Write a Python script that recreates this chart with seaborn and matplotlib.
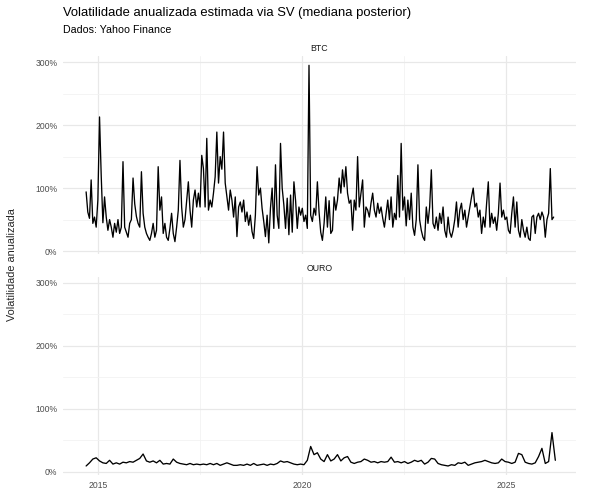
import pandas as pd
import matplotlib
matplotlib.use("Agg")
import matplotlib.pyplot as plt
import matplotlib.dates as mdates
from matplotlib.ticker import PercentFormatter, FixedLocator
import seaborn as sns

# textos
title = "Volatilidade anualizada estimada via SV (mediana posterior)"
subtitle = "Dados: Yahoo Finance"
y_label = "Volatilidade anualizada"
facets = ["BTC", "OURO"]

# séries (volatilidade anualizada em %)
start_date = "2014-09-17"
btc_freq = "15D"
ouro_freq = "30D"

btc_vol = [
    94, 62, 52, 113, 44, 54, 38, 81, 213, 120, 45, 86, 54, 33, 50, 38, 22, 44, 30, 50,
    28, 38, 142, 38, 30, 22, 44, 50, 116, 75, 55, 44, 38, 126, 60, 38, 28, 22, 17, 28,
    44, 22, 33, 134, 65, 86, 28, 44, 22, 17, 36, 60, 28, 15, 38, 65, 144, 70, 38, 50,
    81, 110, 65, 38, 81, 97, 70, 92, 70, 152, 131, 70, 179, 65, 81, 70, 92, 118, 189, 108,
    150, 130, 189, 108, 86, 65, 97, 81, 54, 86, 23, 70, 78, 62, 81, 47, 62, 41, 57, 31,
    20, 57, 134, 89, 100, 68, 47, 23, 57, 13, 68, 100, 36, 137, 57, 36, 171, 100, 73, 36,
    84, 26, 89, 30, 110, 80, 36, 70, 57, 68, 47, 57, 36, 295, 57, 47, 68, 57, 110, 62,
    30, 17, 44, 86, 38, 80, 28, 33, 86, 65, 81, 116, 92, 129, 102, 134, 92, 76, 81, 33,
    81, 65, 150, 70, 92, 113, 38, 70, 65, 54, 76, 92, 65, 54, 76, 60, 70, 52, 38, 60,
    81, 50, 86, 38, 60, 50, 120, 54, 171, 65, 86, 40, 81, 50, 92, 38, 25, 50, 137, 50,
    33, 22, 17, 70, 44, 70, 129, 44, 36, 54, 33, 60, 44, 70, 33, 22, 54, 30, 22, 33,
    50, 78, 38, 65, 76, 50, 65, 38, 54, 70, 86, 100, 70, 76, 54, 65, 28, 54, 38, 76,
    110, 38, 60, 44, 54, 33, 60, 108, 54, 65, 50, 54, 33, 28, 60, 86, 38, 78, 33, 22,
    50, 33, 22, 38, 20, 17, 54, 57, 28, 54, 60, 50, 62, 54, 22, 50, 60, 131, 50, 54,
]

ouro_vol = [
    9, 14, 20, 22, 17, 14, 13, 18, 12, 14, 12, 15, 14, 16, 15, 18, 21, 28, 17, 15,
    17, 14, 18, 12, 13, 12, 20, 15, 13, 12, 11, 13, 11, 12, 11, 12, 11, 13, 11, 13,
    10, 12, 14, 12, 10, 10, 11, 10, 12, 10, 13, 10, 11, 12, 10, 12, 11, 13, 17, 15,
    16, 14, 12, 11, 12, 11, 18, 40, 27, 30, 20, 16, 27, 17, 20, 27, 17, 22, 24, 15,
    13, 15, 16, 20, 18, 15, 16, 14, 16, 15, 16, 23, 15, 16, 14, 16, 13, 15, 18, 16,
    18, 12, 15, 21, 20, 13, 11, 10, 9, 11, 10, 14, 13, 15, 10, 12, 14, 15, 16, 18,
    16, 14, 13, 14, 20, 16, 15, 13, 15, 29, 27, 15, 13, 12, 14, 24, 37, 13, 16, 62,
    18,
]

x_breaks = ["2015-01-01", "2020-01-01", "2025-01-01"]
x_labels = ["2015", "2020", "2025"]
x_minor = ["2017-07-02", "2022-07-02"]
y_breaks = [0, 100, 200, 300]
y_minor = [50, 150, 250]

df = pd.concat([
    pd.DataFrame({"data": pd.date_range(start_date, periods=len(btc_vol), freq=btc_freq),
                  "vol": btc_vol, "ativo": "BTC"}),
    pd.DataFrame({"data": pd.date_range(start_date, periods=len(ouro_vol), freq=ouro_freq),
                  "vol": ouro_vol, "ativo": "OURO"}),
], ignore_index=True)

sns.set_theme(style="white")
plt.rcParams["font.family"] = ["Liberation Sans", "DejaVu Sans"]

fig = plt.figure(figsize=(6, 4.94), dpi=100)
ax_top = fig.add_axes([0.105, 0.485, 0.855, 0.401])
ax_bot = fig.add_axes([0.105, 0.0385, 0.855, 0.401])

for ax, ativo in zip([ax_top, ax_bot], facets):
    sub = df[df["ativo"] == ativo]
    sns.lineplot(data=sub, x="data", y="vol", color="black", linewidth=0.95, ax=ax)
    ax.set_xlim(pd.Timestamp("2014-02-22"), pd.Timestamp("2026-09-19"))
    ax.set_ylim(-5.3, 309.3)
    ax.xaxis.set_major_locator(FixedLocator(mdates.date2num(pd.to_datetime(x_breaks))))
    ax.xaxis.set_minor_locator(FixedLocator(mdates.date2num(pd.to_datetime(x_minor))))
    ax.yaxis.set_major_locator(FixedLocator(y_breaks))
    ax.yaxis.set_minor_locator(FixedLocator(y_minor))
    ax.yaxis.set_major_formatter(PercentFormatter(xmax=100, decimals=0))
    ax.grid(which="major", color="#e8e8e8", linewidth=0.9)
    ax.grid(which="minor", color="#f2f2f2", linewidth=0.6)
    ax.set_axisbelow(True)
    for s in ax.spines.values():
        s.set_visible(False)
    ax.tick_params(which="both", length=0, labelsize=6.2, labelcolor="#4d4d4d", pad=4)
    ax.set_xlabel("")
    ax.set_ylabel("")
    ax.text(0.5, 1.0 + 8 / 198, ativo, transform=ax.transAxes, ha="center", va="center",
            fontsize=6.3, color="#1a1a1a")

ax_top.set_xticklabels([])
ax_bot.set_xticklabels(x_labels)

fig.text(63 / 600, 1 - 13 / 494, title, fontsize=9.4, va="center", ha="left", color="black")
fig.text(63 / 600, 1 - 30 / 494, subtitle, fontsize=7.7, va="center", ha="left", color="black")
fig.text(12 / 600, 1 - 265 / 494, y_label, fontsize=7.8, rotation=90, va="center", ha="center")

fig.savefig("out.png", dpi=100, facecolor="white")
